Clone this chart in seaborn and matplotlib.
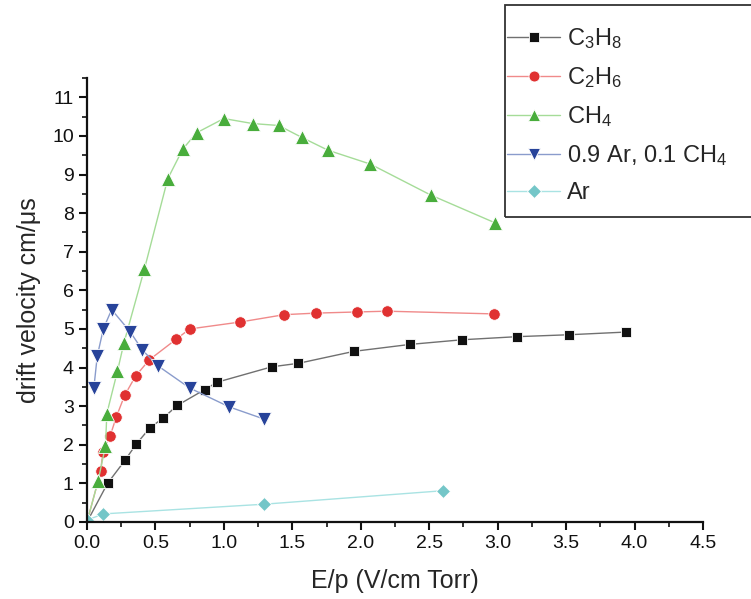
import numpy as np
import pandas as pd
import matplotlib
matplotlib.use("Agg")
import matplotlib.pyplot as plt
import seaborn as sns
from matplotlib.ticker import MultipleLocator
from matplotlib.patches import Rectangle

# ---- data ----
c3h8_x = [0.0, 0.15, 0.28, 0.36, 0.46, 0.555, 0.66, 0.86, 0.95, 1.35, 1.545, 1.95, 2.36, 2.74, 3.14, 3.52, 3.94]
c3h8_y = [0.0, 1.0, 1.61, 2.02, 2.44, 2.69, 3.02, 3.43, 3.62, 4.02, 4.11, 4.42, 4.6, 4.72, 4.8, 4.85, 4.92]

c2h6_x = [0.0, 0.10, 0.115, 0.17, 0.215, 0.275, 0.355, 0.455, 0.65, 0.75, 1.12, 1.44, 1.67, 1.97, 2.19, 2.97]
c2h6_y = [0.0, 1.31, 1.81, 2.24, 2.73, 3.28, 3.78, 4.2, 4.73, 5.0, 5.18, 5.37, 5.41, 5.44, 5.46, 5.39]

ch4_x = [0.0, 0.08, 0.135, 0.145, 0.222, 0.27, 0.42, 0.59, 0.70, 0.80, 1.0, 1.21, 1.40, 1.57, 1.76, 2.07, 2.51, 2.98]
ch4_y = [0.0, 1.05, 1.97, 2.81, 3.9, 4.64, 6.56, 8.89, 9.66, 10.08, 10.45, 10.32, 10.27, 9.96, 9.63, 9.27, 8.47, 7.75]

mix_x = [0.05, 0.075, 0.12, 0.18, 0.315, 0.405, 0.52, 0.75, 1.04, 1.29]
mix_y = [3.47, 4.3, 5.01, 5.5, 4.93, 4.45, 4.04, 3.47, 2.98, 2.67]

ar_x = [0.0, 0.12, 1.29, 2.6]
ar_y = [0.05, 0.21, 0.46, 0.81]

labels = [r"C$_3$H$_8$", r"C$_2$H$_6$", r"CH$_4$", r"0.9 Ar, 0.1 CH$_4$", "Ar"]

# ---- style ----
sns.set_style("ticks")
plt.rcParams["font.family"] = ["Liberation Sans", "DejaVu Sans"]
plt.rcParams["mathtext.default"] = "regular"
plt.rcParams["mathtext.fontset"] = "custom"
plt.rcParams["mathtext.rm"] = "Liberation Sans"

fig = plt.figure(figsize=(7.51, 5.99), dpi=100)
ax = fig.add_axes([87 / 751, 1 - 522 / 599, (703 - 87) / 751, (522 - 78) / 599])

series = [
    (c3h8_x, c3h8_y, labels[0], "s", "#111111", "#707070", 7.3),
    (c2h6_x, c2h6_y, labels[1], "o", "#e03131", "#f08a8a", 8.3),
    (ch4_x, ch4_y, labels[2], "^", "#49ad3c", "#a5dc98", 9.8),
    (mix_x, mix_y, labels[3], "v", "#27439a", "#8a9ccc", 9.8),
    (ar_x, ar_y, labels[4], "D", "#74c6c8", "#a9e3e3", 7.3),
]

for xs, ys, lab, mk, mcol, lcol, ms in series:
    df = pd.DataFrame({"x": xs, "y": ys})
    sns.lineplot(data=df, x="x", y="y", ax=ax, sort=False, estimator=None,
                 color=lcol, linewidth=1.0, marker=mk, markersize=ms,
                 markerfacecolor=mcol, markeredgecolor="white",
                 markeredgewidth=0.6, label=lab, clip_on=True)

ax.set_xlim(0, 4.5)
ax.set_ylim(0, 11.5)
ax.xaxis.set_major_locator(MultipleLocator(0.5))
ax.xaxis.set_minor_locator(MultipleLocator(0.25))
ax.yaxis.set_major_locator(MultipleLocator(1))
ax.yaxis.set_minor_locator(MultipleLocator(0.5))
ax.xaxis.set_major_formatter(matplotlib.ticker.FormatStrFormatter("%.1f"))
ax.tick_params(which="major", direction="out", length=6, width=1.5, labelsize=14, colors="#111111")
ax.tick_params(which="minor", direction="out", length=3.5, width=1.2, colors="#111111")
for s in ["left", "bottom"]:
    ax.spines[s].set_linewidth(1.6)
    ax.spines[s].set_color("#111111")
sns.despine(ax=ax)

ax.set_xlabel("E/p (V/cm Torr)", fontsize=18, labelpad=12)
ax.set_ylabel("drift velocity cm/\u03bcs", fontsize=18, labelpad=8)

leg = ax.legend(loc="upper left", bbox_to_anchor=(507 / 751, 1 - 26 / 599),
                bbox_transform=fig.transFigure, fontsize=17, frameon=False,
                handlelength=2.25, handletextpad=0.3, labelspacing=0.6,
                borderpad=0, borderaxespad=0)
for h in leg.legend_handles:
    h.set_markersize(h.get_markersize() * 0.95)

frame = Rectangle((505 / 751, 1 - 217 / 599), 260 / 751, 212 / 599,
                  transform=fig.transFigure, fill=False, edgecolor="#333333",
                  linewidth=1.3, clip_on=False)
fig.add_artist(frame)

fig.savefig("out.png", dpi=100)
